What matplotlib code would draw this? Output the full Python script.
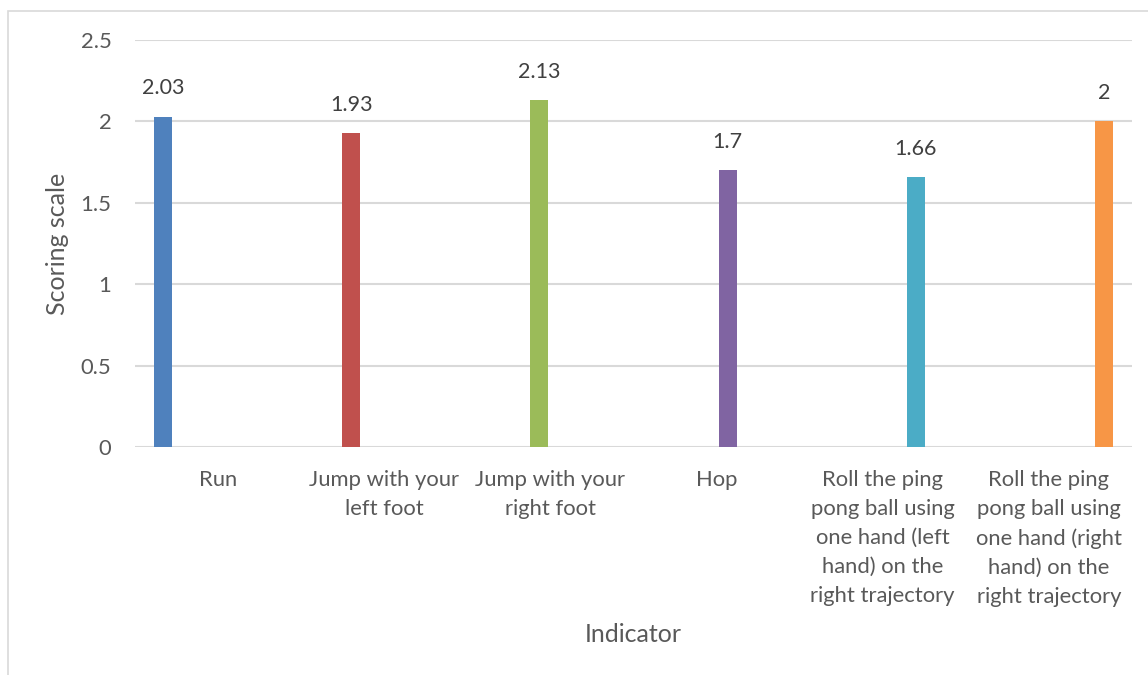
import numpy as np
import matplotlib
matplotlib.use("Agg")
import matplotlib.pyplot as plt
from matplotlib.patches import Rectangle

indicators = [
    "Run",
    "Jump with your\nleft foot",
    "Jump with your\nright foot",
    "Hop",
    "Roll the ping\npong ball using\none hand (left\nhand) on the\nright trajectory",
    "Roll the ping\npong ball using\none hand (right\nhand) on the\nright trajectory",
]
scores = [2.03, 1.93, 2.13, 1.7, 1.66, 2.0]
score_labels = ["2.03", "1.93", "2.13", "1.7", "1.66", "2"]
colors = ["#4F81BD", "#C0504D", "#9BBB59", "#8064A2", "#4BACC6", "#F79646"]
yticks = [0, 0.5, 1, 1.5, 2, 2.5]
ytick_labels = ["0", "0.5", "1", "1.5", "2", "2.5"]

plt.rcParams["font.family"] = ["Lato", "DejaVu Sans"]

W, H = 1148, 675
fig = plt.figure(figsize=(W / 100, H / 100), dpi=100)
ax = fig.add_axes([135 / W, 1 - 447 / H, (1132 - 135) / W, (447 - 40) / H])

# chart border (Excel chart area), cut off on the right and bottom
fig.patches.append(Rectangle((8 / W, -0.1), 1.2, 1 - 11 / H + 0.1,
                             transform=fig.transFigure, fill=False,
                             edgecolor="#D9D9D9", linewidth=1.2))

# each indicator is its own series in a 6-slot cluster
n = len(scores)
slot = 0.1324
width = 0.108
x = np.arange(n)
for i in range(n):
    xpos = x[i] + (i - (n - 1) / 2) * slot
    ax.bar(xpos, scores[i], width=width, color=colors[i], zorder=3)
    ax.annotate(score_labels[i], (xpos, scores[i]), xytext=(0, 13),
                textcoords="offset points", ha="center", va="bottom",
                fontsize=15.5, color="#404040")

ax.set_xlim(-0.5, n - 0.5)
ax.set_ylim(0, 2.5)
ax.set_yticks(yticks)
ax.set_yticklabels(ytick_labels)
ax.set_xticks(x)
ax.set_xticklabels(indicators, linespacing=1.56)

ax.grid(axis="y", color="#D9D9D9", linewidth=1.5, zorder=0)
for s in ["top", "right", "left", "bottom"]:
    ax.spines[s].set_visible(False)
ax.tick_params(axis="both", length=0, labelsize=15.8, labelcolor="#595959")
ax.tick_params(axis="x", pad=16.5)
ax.tick_params(axis="y", pad=17)

ax.set_xlabel("Indicator", fontsize=18, color="#595959", labelpad=12)
ax.set_ylabel("Scoring scale", fontsize=18, color="#595959", labelpad=8)

fig.savefig("out.png", dpi=100)
